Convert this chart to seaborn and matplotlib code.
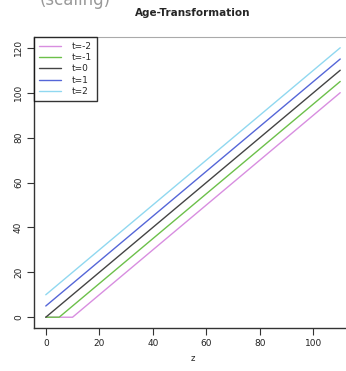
import matplotlib
matplotlib.use("Agg")
import matplotlib.pyplot as plt
import seaborn as sns
import pandas as pd
from matplotlib.lines import Line2D

labels = ["t=-2", "t=-1", "t=0", "t=1", "t=2"]
z_values = [[0, 10, 110], [0, 5, 110], [0, 110], [0, 110], [0, 110]]
y_values = [[0, 0, 100], [0, 0, 105], [0, 110], [5, 115], [10, 120]]
colors = ["#d88ee0", "#6cc04a", "#444444", "#5566d8", "#90d8f0"]
x_ticks = [0, 20, 40, 60, 80, 100]
y_ticks = [0, 20, 40, 60, 80, 100, 120]

rows = []
for lab, zs, ys in zip(labels, z_values, y_values):
    for z, y in zip(zs, ys):
        rows.append({"z": z, "y": y, "series": lab})
df = pd.DataFrame(rows)

sns.set_style("ticks")
plt.rcParams["font.family"] = ["DejaVu Sans"]

fig = plt.figure(figsize=(3.46, 3.71), dpi=100)
W, H = 346, 371
left, right, top, bottom = 34, 352, 37, 328
ax = fig.add_axes([left / W, 1 - bottom / H, (right - left) / W, (bottom - top) / H])

sns.lineplot(data=df, x="z", y="y", hue="series", palette=dict(zip(labels, colors)),
             hue_order=labels, estimator=None, sort=False, ax=ax, linewidth=1.0, legend=False)

ax.set_xlim(-4.4, 114.4)
ax.set_ylim(-4.8, 124.8)
ax.set_xticks(x_ticks)
ax.set_yticks(y_ticks)
ax.tick_params(axis="both", labelsize=6.5, length=5, width=0.8, color="#333333", pad=3,
               labelcolor="#222222")
for lab in ax.get_yticklabels():
    lab.set_rotation(90)
    lab.set_va("center")
ax.set_xlabel("z", fontsize=6, labelpad=4)
ax.set_ylabel("")
ax.set_title("Age-Transformation", fontsize=7.5, fontweight="bold", pad=15)

for s in ["left", "bottom"]:
    ax.spines[s].set_color("#333333")
    ax.spines[s].set_linewidth(1.0)
ax.spines["top"].set_color("#aaaaaa")
ax.spines["top"].set_linewidth(0.8)
ax.spines["right"].set_color("#aaaaaa")

handles = [Line2D([0], [0], color=c, lw=1.0) for c in colors]
leg = ax.legend(handles, labels, loc="upper left", bbox_to_anchor=(0, 1), borderaxespad=0,
                fontsize=6.5, frameon=True, fancybox=False, handlelength=2.4,
                handletextpad=1.2, labelspacing=0.25, borderpad=0.55)
leg.get_frame().set_edgecolor("black")
leg.get_frame().set_linewidth(1.0)

fig.text(40 / W, 1 - 5 / H, "(scaling)", fontsize=12, color="#999999", va="baseline", ha="left")

fig.savefig("out.png", dpi=100)
